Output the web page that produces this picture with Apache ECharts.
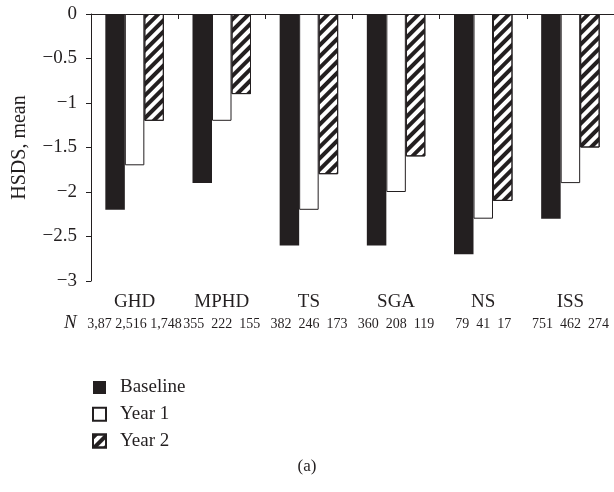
<!DOCTYPE html>
<html>
<head>
<meta charset="utf-8">
<script src="https://cdn.jsdelivr.net/npm/echarts@6/dist/echarts.min.js"></script>
<style>html,body{margin:0;padding:0;background:#fff;}#c{width:614px;height:492px;}</style>
</head>
<body>
<div id="c"></div>
<script>
var categories = ['GHD', 'MPHD', 'TS', 'SGA', 'NS', 'ISS'];
var baseline = [-2.2, -1.9, -2.6, -2.6, -2.7, -2.3];
var year1 = [-1.7, -1.2, -2.2, -2.0, -2.3, -1.9];
var year2 = [-1.2, -0.9, -1.8, -1.6, -2.1, -1.5];
var nBaseline = ['3,87', '355', '382', '360', '79', '751'];
var nYear1 = ['2,516', '222', '246', '208', '41', '462'];
var nYear2 = ['1,748', '155', '173', '119', '17', '274'];
var seriesNames = ['Baseline', 'Year 1', 'Year 2'];

var FONT = "'Liberation Serif','DejaVu Serif',serif";
var INK = '#231f20';

var nLabels = {};
categories.forEach(function (c, i) {
  var parts = [nBaseline[i], nYear1[i], nYear2[i]];
  var sep = parts.join('').length > 9 ? ' ' : '  ';
  nLabels[c] = parts.join(sep);
});

var chart = echarts.init(document.getElementById('c'));
chart.setOption({
  animation: false,
  backgroundColor: '#fff',
  textStyle: { fontFamily: FONT, color: INK },
  grid: { left: 91, top: 14, width: 525, height: 267, containLabel: false },
  legend: {
    orient: 'vertical',
    left: 92,
    top: 378,
    padding: 0,
    itemWidth: 13,
    itemHeight: 13,
    itemGap: 7.8,
    icon: 'rect',
    data: seriesNames,
    textStyle: { fontFamily: FONT, fontSize: 19, color: INK, padding: [0, 0, 0, 9] }
  },
  xAxis: [
    {
      type: 'category',
      position: 'top',
      data: categories,
      axisLine: { show: true, lineStyle: { color: INK, width: 1 } },
      axisTick: { show: true, inside: true, length: 5, lineStyle: { color: INK } },
      axisLabel: { show: false }
    },
    {
      type: 'category',
      position: 'bottom',
      data: categories,
      axisLine: { show: false },
      axisTick: { show: false },
      axisLabel: {
        show: true,
        margin: 10,
        interval: 0,
        formatter: function (v) { return v + '\n{n|' + nLabels[v] + '}'; },
        fontFamily: FONT,
        fontSize: 19,
        color: INK,
        lineHeight: 22,
        rich: {
          n: { fontFamily: FONT, fontSize: 14, color: INK, lineHeight: 22 }
        }
      }
    }
  ],
  yAxis: {
    type: 'value',
    min: -3,
    max: 0,
    interval: 0.5,
    name: 'HSDS, mean',
    nameLocation: 'middle',
    nameGap: 61,
    nameTextStyle: { fontFamily: FONT, fontSize: 20, color: INK },
    axisLine: { show: true, lineStyle: { color: INK, width: 1 } },
    axisTick: { show: true, length: 5, lineStyle: { color: INK } },
    splitLine: { show: false },
    axisLabel: {
      margin: 14,
      fontFamily: FONT,
      fontSize: 19,
      color: INK,
      formatter: function (v) { return v < 0 ? '\u2212' + String(Math.abs(v)) : String(v); }
    }
  },
  series: [
    {
      name: seriesNames[0], type: 'bar', data: baseline, barWidth: 19.5, barGap: '0%',
      itemStyle: { color: INK }
    },
    {
      name: seriesNames[1], type: 'bar', data: year1, barWidth: 19.5, barGap: '0%',
      itemStyle: { color: '#ffffff', borderColor: INK, borderWidth: 1 }
    },
    {
      name: seriesNames[2], type: 'bar', data: year2, barWidth: 19.5, barGap: '0%',
      itemStyle: {
        color: '#ffffff', borderColor: INK, borderWidth: 1,
        decal: { symbol: 'rect', symbolSize: 1, dashArrayX: [1, 0], dashArrayY: [4, 4], rotation: -Math.PI / 4, color: INK }
      }
    }
  ],
  graphic: [
    {
      type: 'text', left: 64, top: 313,
      style: { text: 'N', font: "italic 19px 'Liberation Serif','DejaVu Serif',serif", fill: INK }
    },
    {
      type: 'text', left: 'center', top: 458,
      style: { text: '(a)', font: "17px 'Liberation Serif','DejaVu Serif',serif", fill: INK }
    }
  ]
});
</script>
</body>
</html>
